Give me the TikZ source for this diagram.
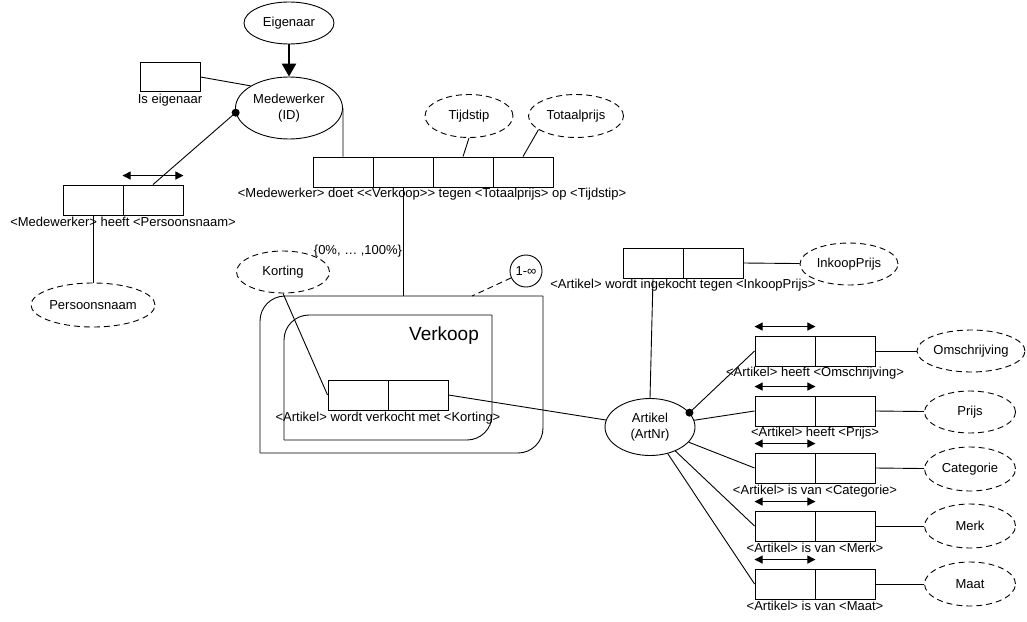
\documentclass[tikz,border=0pt]{standalone}
\usepackage{fontspec}
\setmainfont{Liberation Sans}
\usetikzlibrary{shapes.geometric,arrows.meta}

\tikzset{
  cel/.style={draw, minimum width=60pt, minimum height=30pt, inner sep=0pt},
  obj/.style={draw, ellipse, inner sep=0pt, align=center},
  attr/.style={obj, dash pattern=on 6pt off 4pt},
  lbl/.style={inner sep=0pt},
  uniek/.style={{Triangle[length=8pt,width=8pt]}-{Triangle[length=8pt,width=8pt]}},
}

\begin{document}
\begin{tikzpicture}[x=1pt,y=-1pt,line width=0.9pt,font=\fontsize{13}{16}\selectfont]
\useasboundingbox (0,0) rectangle (1027,621);

% medewerker en eigenaar
\node[obj, minimum width=90pt, minimum height=42pt] (eig) at (289,23) {Eigenaar};
\node[obj, minimum width=107pt, minimum height=62pt] (medew) at (289,108) {Medewerker\\(ID)};
\node[cel, minimum height=29pt] (ie) at (170,77) {};
\node[lbl] (ieL) at (170,100) {Is eigenaar};
\draw[line width=2.5pt, -{Triangle[length=13pt,width=14pt]}] (eig) -- (medew);
\draw (ie.east) -- (medew.150);

% persoonsnaam
\node[cel] (pn1) at (93,200) {};
\node[cel] (pn2) at (153,200) {};
\node[lbl] (pnL) at (123,222) {<Medewerker> heeft <Persoonsnaam>};
\node[attr, minimum width=124pt, minimum height=44pt] (pnaam) at (93,305) {Persoonsnaam};
\draw[uniek] ([yshift=9pt]pn2.north west) -- ([yshift=9pt]pn2.north east);
\draw (pn2.north) -- (medew.185);
\fill (medew.185) circle (4pt);
\draw (pn1.south) -- (pnaam.north);

% verkoop
\node[cel] (vk1) at (343,172) {};
\node[cel] (vk2) at (403,172) {};
\node[cel] (vk3) at (463,172) {};
\node[cel] (vk4) at (523,172) {};
\node[lbl] (vkL) at (432,194) {<Medewerker> doet <{}<Verkoop>{}> tegen <Totaalprijs> op <Tijdstip>};
\node[attr, minimum width=88pt, minimum height=43pt] (tijd) at (469,116) {Tijdstip};
\node[attr, minimum width=95pt, minimum height=43pt] (totaal) at (576,116) {Totaalprijs};
\draw (medew.east) -- (vk1.north);
\draw (tijd.south) -- (vk3.north);
\draw (totaal.200) -- (vk4.north);

% kader Verkoop
\coordinate (kaderTop) at (403,296);
\coordinate (kaderRB) at (472,296);
\draw[rounded corners=25pt] (260,453) -- (260,296) -- (543,296);
\draw[rounded corners=25pt] (543,296) -- (543,453) -- (260,453);
\draw[rounded corners=25pt] (284,440) -- (284,315) -- (492,315);
\draw[rounded corners=25pt] (492,315) -- (492,440) -- (284,440);
\node[lbl, font=\fontsize{19}{22}\selectfont] (vkT) at (444,336) {Verkoop};
\draw (vk2.south) -- (kaderTop);
\node[draw, circle, minimum size=32pt, inner sep=0pt] (aantal) at (526,271) {1-∞};
\draw[dash pattern=on 6pt off 4pt] (aantal) -- (kaderRB);

% korting
\node[attr, minimum width=93pt, minimum height=42pt] (kort) at (283,272) {Korting};
\node[lbl] (bereik) at (358,251) {\{0\%, … ,100\%\}};
\node[cel] (kv1) at (358,395) {};
\node[cel] (kv2) at (418,395) {};
\node[lbl] (kvL) at (388,418) {<Artikel> wordt verkocht met <Korting>};
\draw (kort.south) -- (kv1.west);

% artikel
\node[obj, minimum width=90pt, minimum height=57pt] (art) at (650,427) {Artikel\\(ArtNr)};
\draw (kv2.east) -- (art);

\node[cel] (ink1) at (653,263) {};
\node[cel] (ink2) at (713,263) {};
\node[lbl] (inkL) at (683,285) {<Artikel> wordt ingekocht tegen <InkoopPrijs>};
\node[attr, minimum width=98pt, minimum height=42pt] (inkp) at (849,264) {InkoopPrijs};
\draw (ink2.east) -- (inkp);
\draw (ink1.south) -- (art.north);

% omschrijving
\node[cel] (om1) at (785,351) {};
\node[cel] (om2) at (845,351) {};
\node[lbl] (omL) at (815,373) {<Artikel> heeft <Omschrijving>};
\node[attr, minimum width=108pt, minimum height=42pt] (omsch) at (971,351) {Omschrijving};
\draw[uniek] ([yshift=9pt]om1.north west) -- ([yshift=9pt]om1.north east);
\draw (om2.east) -- (omsch);
\draw (art.20) -- (om1.west);
\fill (art.20) circle (4pt);

% prijs
\node[cel] (pr1) at (785,411) {};
\node[cel] (pr2) at (845,411) {};
\node[lbl] (prL) at (815,433) {<Artikel> heeft <Prijs>};
\node[attr, minimum width=91pt, minimum height=42pt] (prijs) at (970,412) {Prijs};
\draw[uniek] ([yshift=9pt]pr1.north west) -- ([yshift=9pt]pr1.north east);
\draw (pr2.east) -- (prijs);
\draw (art) -- (pr1.west);

% categorie
\node[cel] (ca1) at (785,468) {};
\node[cel] (ca2) at (845,468) {};
\node[lbl] (caL) at (815,491) {<Artikel> is van <Categorie>};
\node[attr, minimum width=91pt, minimum height=44pt] (cat) at (970,469) {Categorie};
\draw[uniek] ([yshift=9pt]ca1.north west) -- ([yshift=9pt]ca1.north east);
\draw (ca2.east) -- (cat);
\draw (art) -- (ca1.west);

% merk
\node[cel] (me1) at (785,526) {};
\node[cel] (me2) at (845,526) {};
\node[lbl] (meL) at (815,548) {<Artikel> is van <Merk>};
\node[attr, minimum width=91pt, minimum height=44pt] (merk) at (970,526) {Merk};
\draw[uniek] ([yshift=9pt]me1.north west) -- ([yshift=9pt]me1.north east);
\draw (me2.east) -- (merk);
\draw (art) -- (me1.west);

% maat
\node[cel] (ma1) at (785,584) {};
\node[cel] (ma2) at (845,584) {};
\node[lbl] (maL) at (815,606) {<Artikel> is van <Maat>};
\node[attr, minimum width=91pt, minimum height=44pt] (maat) at (970,584) {Maat};
\draw[uniek] ([yshift=9pt]ma1.north west) -- ([yshift=9pt]ma1.north east);
\draw (ma2.east) -- (maat);
\draw (art) -- (ma1.west);
\end{tikzpicture}
\end{document}
